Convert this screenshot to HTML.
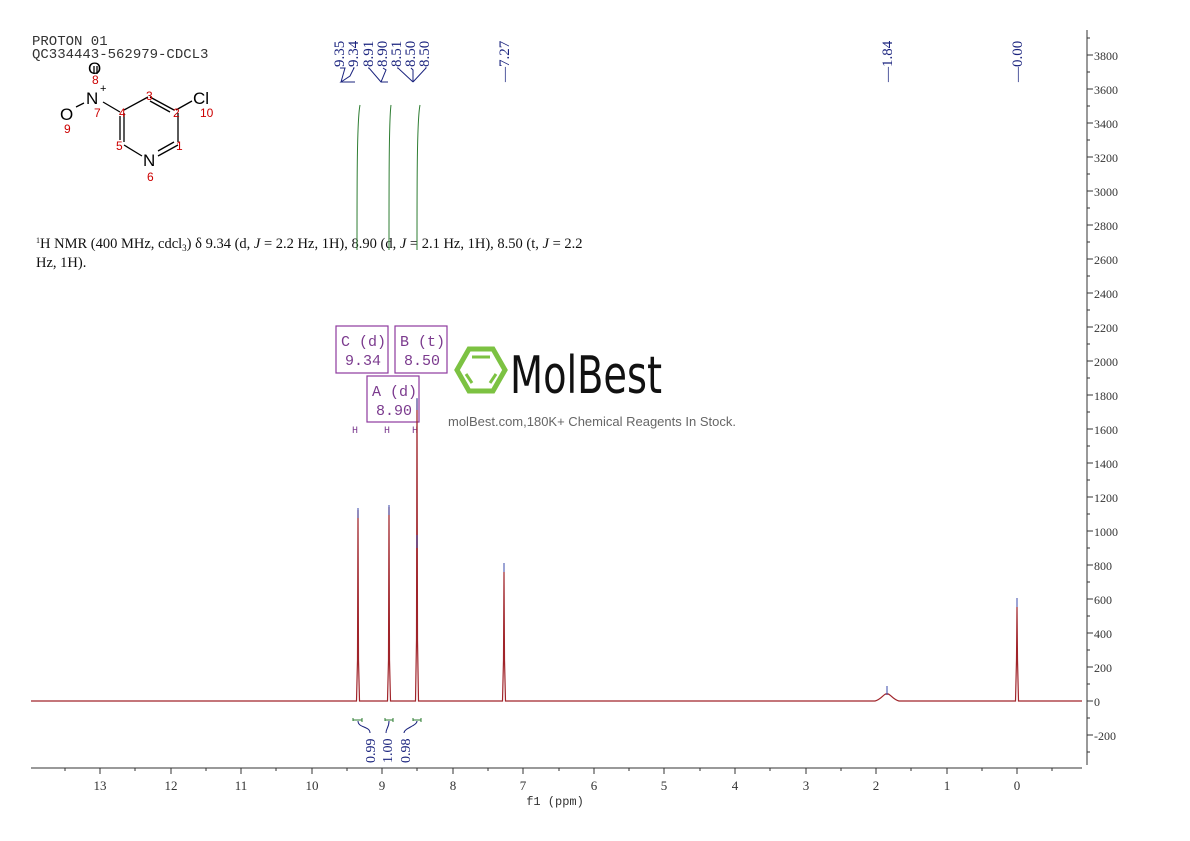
<!DOCTYPE html>
<html><head><meta charset="utf-8"><style>
html,body{margin:0;padding:0;background:#fff;}
svg{display:block;}
</style></head><body>
<svg width="1190" height="841" viewBox="0 0 1190 841" xmlns="http://www.w3.org/2000/svg" font-family="Liberation Serif, serif">
<rect width="1190" height="841" fill="#fff"/>
<text x="32" y="45" font-size="14" fill="#333" font-family="Liberation Mono, monospace">PROTON 01</text>
<text x="32" y="58" font-size="14" fill="#333" font-family="Liberation Mono, monospace">QC334443-562979-CDCL3</text>
<g font-family="Liberation Sans, sans-serif" stroke="#000" stroke-width="1.3" fill="none">
<line x1="94" y1="66" x2="94" y2="74"/><line x1="97" y1="66" x2="97" y2="74"/>
<line x1="103" y1="102" x2="120" y2="112"/>
<line x1="124" y1="110" x2="148" y2="97"/>
<line x1="150" y1="97" x2="174" y2="110"/><line x1="150" y1="101" x2="170" y2="112"/>
<line x1="176" y1="110" x2="192" y2="101"/>
<line x1="178" y1="113" x2="178" y2="142"/>
<line x1="124" y1="113" x2="124" y2="142"/><line x1="120" y1="116" x2="120" y2="140"/>
<line x1="124" y1="145" x2="142" y2="156"/>
<line x1="178" y1="145" x2="158" y2="156"/><line x1="174" y1="142" x2="158" y2="151"/>
<line x1="76" y1="107" x2="84" y2="103"/>
</g>
<g font-family="Liberation Sans, sans-serif">
<text x="88" y="74" font-size="17">O</text>
<text x="86" y="104" font-size="17">N</text><text x="100" y="92" font-size="11">+</text>
<text x="60" y="120" font-size="17">O</text>
<text x="193" y="104" font-size="17">Cl</text>
<text x="143" y="166" font-size="17">N</text>
<g fill="#c00" font-size="12">
<text x="92" y="84">8</text><text x="94" y="117">7</text><text x="64" y="133">9</text>
<text x="119" y="117">4</text><text x="146" y="100">3</text><text x="173" y="117">2</text>
<text x="200" y="117">10</text><text x="116" y="150">5</text><text x="176" y="150">1</text><text x="147" y="181">6</text>
</g>
</g>
<text x="36" y="248" font-size="14.5" fill="#111"><tspan font-size="8" dy="-5">1</tspan><tspan dy="5">H NMR (400 MHz, cdcl</tspan><tspan font-size="9" dy="3">3</tspan><tspan dy="-3">) δ 9.34 (d, </tspan><tspan font-style="italic">J</tspan> = 2.2 Hz, 1H), 8.90 (d, <tspan font-style="italic">J</tspan> = 2.1 Hz, 1H), 8.50 (t, <tspan font-style="italic">J</tspan> = 2.2</text>
<text x="36" y="267" font-size="14.5" fill="#111">Hz, 1H).</text>
<g fill="#1a237e" font-size="15">
<g transform="translate(344,67) rotate(-90)"><text>9.35</text></g>
<g transform="translate(358,67) rotate(-90)"><text>9.34</text></g>
<g transform="translate(373,67) rotate(-90)"><text>8.91</text></g>
<g transform="translate(387,67) rotate(-90)"><text>8.90</text></g>
<g transform="translate(401,67) rotate(-90)"><text>8.51</text></g>
<g transform="translate(415,67) rotate(-90)"><text>8.50</text></g>
<g transform="translate(429,67) rotate(-90)"><text>8.50</text></g>
<g transform="translate(509,82) rotate(-90)"><text>—7.27</text></g>
<g transform="translate(892,82) rotate(-90)"><text>—1.84</text></g>
<g transform="translate(1022,82) rotate(-90)"><text>—0.00</text></g>
</g>
<g stroke="#1a237e" stroke-width="1" fill="none">
<path d="M340,68 L345,68 L341,82 M353,68 L354,68 L350,76 L341,82 L355,82"/>
<path d="M368,68 L369,68 L381,82 L388,82 M383,68 L386,70 L381,82"/>
<path d="M397,68 L398,68 L413,82 M411,68 L413,70 L413,82 M425,68 L426,68 L413,82"/>
</g>
<g stroke="#2e7d32" stroke-width="1" fill="none">
<path d="M357,250 C357,180 357,120 360,105"/>
<path d="M389,250 C389,180 389,120 391,105"/>
<path d="M417,250 C417,180 417,120 420,105"/>
</g>
<g stroke="#8e3a9e" stroke-width="1.2" fill="none">
<rect x="336" y="326" width="52" height="47"/>
<rect x="395" y="326" width="52" height="47"/>
<rect x="367" y="376" width="52" height="46"/>
</g>
<g fill="#7b3a8e" font-size="15" font-family="Liberation Mono, monospace">
<text x="341" y="346">C (d)</text><text x="345" y="365">9.34</text>
<text x="400" y="346">B (t)</text><text x="404" y="365">8.50</text>
<text x="372" y="396">A (d)</text><text x="376" y="415">8.90</text>
<text x="352" y="433" font-size="10">H</text><text x="384" y="433" font-size="10">H</text><text x="412" y="433" font-size="10">H</text>
</g>
<g fill="none" stroke="#7cc242" stroke-width="5">
<polygon points="457,370 469,349 493,349 505,370 493,391 469,391"/>
<line x1="472" y1="357" x2="490" y2="357" stroke-width="3"/>
<line x1="466" y1="374" x2="472" y2="383" stroke-width="3"/>
<line x1="496" y1="374" x2="490" y2="383" stroke-width="3"/>
</g>
<text x="510" y="393" font-size="52" font-family="DejaVu Sans Condensed, Liberation Sans Narrow, sans-serif" fill="#111" textLength="152" lengthAdjust="spacingAndGlyphs">MolBest</text>
<text x="448" y="426" font-size="13" fill="#666" font-family="Liberation Sans, sans-serif">molBest.com,180K+ Chemical Reagents In Stock.</text>
<g stroke="#a0242a" stroke-width="1.2" fill="none">
<path d="M31,701 L356.5,701 L357.5,660 L358,510 L358.5,660 L359.5,701 L387.5,701 L388.5,660 L389,507 L389.5,660 L390.5,701 L415.5,701 L416.5,640 L417,399 L417.5,640 L418.5,701 L502.5,701 L503.5,660 L504,572 L504.5,660 L505.5,701 L875,701 C882,699 884,693 887,694 C890,693 892,699 899,701 L1015.5,701 L1016.5,660 L1017,607 L1017.5,660 L1018.5,701 L1082,701"/>
</g>
<g stroke="#3949ab" stroke-width="1">
<line x1="358" y1="508" x2="358" y2="518"/><line x1="389" y1="505" x2="389" y2="515"/>
<line x1="417" y1="398" x2="417" y2="410"/><line x1="417" y1="535" x2="417" y2="548"/>
<line x1="504" y1="563" x2="504" y2="572"/><line x1="887" y1="686" x2="887" y2="695"/>
<line x1="1017" y1="598" x2="1017" y2="607"/>
</g>
<g stroke="#2e7d32" stroke-width="1" fill="none">
<path d="M353,721 L353,718 M353,720 L362,720 M362,718 L362,722"/>
<path d="M385,721 L385,718 M385,720 L393,720 M393,718 L393,722"/>
<path d="M413,721 L413,718 M413,720 L421,720 M421,718 L421,722"/>
</g>
<g stroke="#1a237e" stroke-width="1" fill="none">
<path d="M358,721 C358,728 370,726 370,733"/>
<path d="M389,721 C389,728 386,728 386,733"/>
<path d="M417,721 C417,726 404,728 404,733"/>
</g>
<g fill="#1a237e" font-size="14">
<g transform="translate(375,763) rotate(-90)"><text>0.99</text></g>
<g transform="translate(392,763) rotate(-90)"><text>1.00</text></g>
<g transform="translate(410,763) rotate(-90)"><text>0.98</text></g>
</g>
<g stroke="#333" stroke-width="1">
<line x1="31" y1="768" x2="1082" y2="768"/>
<line x1="100" y1="768" x2="100" y2="774"/><line x1="171" y1="768" x2="171" y2="774"/><line x1="241" y1="768" x2="241" y2="774"/><line x1="312" y1="768" x2="312" y2="774"/><line x1="382" y1="768" x2="382" y2="774"/><line x1="453" y1="768" x2="453" y2="774"/><line x1="523" y1="768" x2="523" y2="774"/><line x1="594" y1="768" x2="594" y2="774"/><line x1="664" y1="768" x2="664" y2="774"/><line x1="735" y1="768" x2="735" y2="774"/><line x1="806" y1="768" x2="806" y2="774"/><line x1="876" y1="768" x2="876" y2="774"/><line x1="947" y1="768" x2="947" y2="774"/><line x1="1017" y1="768" x2="1017" y2="774"/>
<line x1="65" y1="768" x2="65" y2="771"/><line x1="135" y1="768" x2="135" y2="771"/><line x1="206" y1="768" x2="206" y2="771"/><line x1="276" y1="768" x2="276" y2="771"/><line x1="347" y1="768" x2="347" y2="771"/><line x1="417" y1="768" x2="417" y2="771"/><line x1="488" y1="768" x2="488" y2="771"/><line x1="559" y1="768" x2="559" y2="771"/><line x1="629" y1="768" x2="629" y2="771"/><line x1="700" y1="768" x2="700" y2="771"/><line x1="770" y1="768" x2="770" y2="771"/><line x1="841" y1="768" x2="841" y2="771"/><line x1="911" y1="768" x2="911" y2="771"/><line x1="982" y1="768" x2="982" y2="771"/><line x1="1052" y1="768" x2="1052" y2="771"/>
</g>
<g fill="#333" font-size="13" text-anchor="middle">
<text x="100" y="790">13</text><text x="171" y="790">12</text><text x="241" y="790">11</text><text x="312" y="790">10</text><text x="382" y="790">9</text><text x="453" y="790">8</text><text x="523" y="790">7</text><text x="594" y="790">6</text><text x="664" y="790">5</text><text x="735" y="790">4</text><text x="806" y="790">3</text><text x="876" y="790">2</text><text x="947" y="790">1</text><text x="1017" y="790">0</text>
<text x="555" y="805" font-size="12" font-family="Liberation Mono, monospace">f1 (ppm)</text>
</g>
<g stroke="#333" stroke-width="1">
<line x1="1087" y1="30" x2="1087" y2="765"/>
</g>
<g fill="#333" font-size="12">
<text x="1094" y="60">3800</text><text x="1094" y="94">3600</text><text x="1094" y="128">3400</text><text x="1094" y="162">3200</text><text x="1094" y="196">3000</text><text x="1094" y="230">2800</text><text x="1094" y="264">2600</text><text x="1094" y="298">2400</text><text x="1094" y="332">2200</text><text x="1094" y="366">2000</text><text x="1094" y="400">1800</text><text x="1094" y="434">1600</text><text x="1094" y="468">1400</text><text x="1094" y="502">1200</text><text x="1094" y="536">1000</text><text x="1094" y="570">800</text><text x="1094" y="604">600</text><text x="1094" y="638">400</text><text x="1094" y="672">200</text><text x="1094" y="706">0</text><text x="1094" y="740">-200</text>
</g>
<g stroke="#333" stroke-width="1">
<path d="M1087,55h6M1087,89h6M1087,123h6M1087,157h6M1087,191h6M1087,225h6M1087,259h6M1087,293h6M1087,327h6M1087,361h6M1087,395h6M1087,429h6M1087,463h6M1087,497h6M1087,531h6M1087,565h6M1087,599h6M1087,633h6M1087,667h6M1087,701h6M1087,735h6"/>
<path d="M1087,38h3M1087,72h3M1087,106h3M1087,140h3M1087,174h3M1087,208h3M1087,242h3M1087,276h3M1087,310h3M1087,344h3M1087,378h3M1087,412h3M1087,446h3M1087,480h3M1087,514h3M1087,548h3M1087,582h3M1087,616h3M1087,650h3M1087,684h3M1087,718h3M1087,752h3"/>
</g>
</svg>
</body></html>
